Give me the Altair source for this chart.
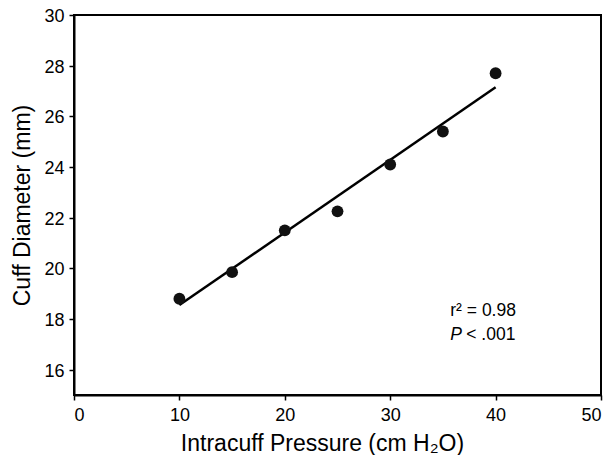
import altair as alt
import pandas as pd

pressure = [10, 15, 20, 25, 30, 35, 40]
diameter = [18.8, 19.85, 21.5, 22.25, 24.1, 25.4, 27.7]
fit_x = [10, 40]
fit_y = [18.55, 27.15]
x_ticks = [0, 10, 20, 30, 40, 50]
y_ticks = [16, 18, 20, 22, 24, 26, 28, 30]

pts = pd.DataFrame({"x": pressure, "y": diameter})
fit = pd.DataFrame({"x": fit_x, "y": fit_y})
ann1 = pd.DataFrame({"x": [35.7], "y": [18.33], "t": ["r² = 0.98"]})
ann2 = pd.DataFrame({"x": [35.7], "y": [17.38], "t": ["P"]})
ann3 = pd.DataFrame({"x": [35.7], "y": [17.38], "t": ["< .001"]})

FONT = "Liberation Sans"
xs = alt.Scale(domain=[0, 50], nice=False, zero=False)
ys = alt.Scale(domain=[15, 30], nice=False, zero=False)

xenc = alt.X("x:Q", scale=xs, axis=alt.Axis(
    values=x_ticks, title="Intracuff Pressure (cm H₂O)", grid=False,
    domainColor="black", domainWidth=2, tickColor="black", tickWidth=1.5, tickSize=5,
    labelFont=FONT, labelFontSize=18, labelColor="black", labelPadding=6,
    titleFont=FONT, titleFontSize=23, titleFontWeight="normal", titleColor="black", titlePadding=8,
    titleX=248, titleAlign="center"))
yenc = alt.Y("y:Q", scale=ys, axis=alt.Axis(
    values=y_ticks, title="Cuff Diameter (mm)", grid=False,
    domainColor="black", domainWidth=2, tickColor="black", tickWidth=1.5, tickSize=5,
    labelFont=FONT, labelFontSize=18, labelColor="black", labelPadding=5, labelOffset=1.5,
    titleFont=FONT, titleFontSize=23, titleFontWeight="normal", titleColor="black", titlePadding=9))

points = alt.Chart(pts).mark_point(filled=True, size=140, color="#111111", opacity=1).encode(x=xenc, y=yenc)
line = alt.Chart(fit).mark_line(color="black", strokeWidth=2.5).encode(x="x:Q", y="y:Q")
t1 = alt.Chart(ann1).mark_text(align="left", baseline="middle", font=FONT, fontSize=17.5, color="black").encode(
    x="x:Q", y="y:Q", text="t:N")
t2 = alt.Chart(ann2).mark_text(align="left", baseline="middle", font=FONT, fontSize=17.5, fontStyle="italic", color="black").encode(
    x="x:Q", y="y:Q", text="t:N")
t3 = alt.Chart(ann3).mark_text(align="left", baseline="middle", font=FONT, fontSize=17.5, color="black", dx=16).encode(
    x="x:Q", y="y:Q", text="t:N")

chart = alt.layer(line, points, t1, t2, t3).properties(
    width=527, height=380,
    autosize=alt.AutoSizeParams(type="none"),
    padding={"left": 66, "top": 7, "right": 3, "bottom": 60},
    background="white",
).configure_view(stroke="black", strokeWidth=2)

chart.save("out.html", embed_options={"renderer": "svg", "actions": False})
